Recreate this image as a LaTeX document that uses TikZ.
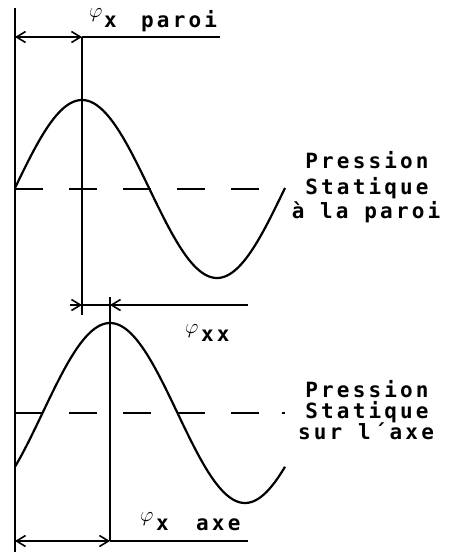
\documentclass[tikz,border=0pt]{standalone}
\usepackage{fontspec}
\usetikzlibrary{arrows.meta}
\newfontfamily\plotfont{DejaVu Sans Mono}[LetterSpace=15]
\begin{document}
\begin{tikzpicture}[x=1pt,y=-1pt,
  >={Straight Barb[length=9pt,width=11pt,line width=1.6pt]},
  ln/.style={line width=1.6pt},
  wave/.style={line width=2.2pt,line join=round},
  dsh/.style={line width=1.8pt,dash pattern=on 28pt off 26pt},
  dimline/.style={ln,<->},
  endarrow/.style={ln,->},
  lbl/.style={inner sep=0pt,font=\plotfont\bfseries\fontsize{21}{21}\selectfont,anchor=base west},
  side/.style={inner sep=0pt,font=\plotfont\bfseries\fontsize{21}{21}\selectfont,anchor=base},
  phi/.style={inner sep=0pt,font=\fontsize{22}{22}\selectfont,anchor=base west}]
\useasboundingbox (0,0) rectangle (452,552);
% reference coordinates
\coordinate (L0) at (15,8);
\coordinate (L1) at (15,552);
\coordinate (Ta) at (15,37);
\coordinate (Tb) at (82,37);
\coordinate (Tc) at (220,37);
\coordinate (Vb) at (82,315);
\coordinate (Ma) at (70,305);
\coordinate (Mb) at (82,305);
\coordinate (Mc) at (110,305);
\coordinate (Md) at (248,305);
\coordinate (Ua) at (110,297);
\coordinate (Ba) at (15,541);
\coordinate (Bb) at (110,541);
\coordinate (Bc) at (248,541);
\coordinate (D1a) at (15,189);
\coordinate (D1b) at (262,189);
\coordinate (D2a) at (15,413);
\coordinate (D2b) at (262,413);
\coordinate (D2c) at (282,413);
\coordinate (D2d) at (284.5,413);
% left axis
\draw[ln] (L0) -- (L1);
% top dimension
\draw[dimline] (Ta) -- (Tb);
\draw[ln] (Tb) -- (Tc);
\draw[ln] (Tb) -- (Vb);
% middle dimension
\draw[endarrow] (Ma) -- (Mb);
\draw[endarrow] (Md) -- (Mc);
\draw[ln] (Mb) -- (Mc);
\draw[ln] (Ua) -- (Bb);
% bottom dimension
\draw[dimline] (Ba) -- (Bb);
\draw[ln] (Bb) -- (Bc);
% dashed static lines
\draw[dsh] (D1a) -- (D1b);
\draw[dsh] (D2a) -- (D2b);
\draw[line width=1.8pt] (D2c) -- (D2d);
% waves
\draw[wave] plot[domain=15:285,samples=120,smooth] (\x,{189-89*cos(4/3*(\x-82))});
\draw[wave] plot[domain=15:285,samples=120,smooth] (\x,{413-90*cos(4/3*(\x-110))});
% labels
\node[phi] (p1) at (89,17.5) {$\varphi$};
\node[lbl] (t1) at (104,27) {x};
\node[lbl] (t1b) at (141,27) {paroi};
\node[phi] (p2) at (185,333) {$\varphi$};
\node[lbl] (t2) at (201,341) {xx};
\node[phi] (p3) at (140,521) {$\varphi$};
\node[lbl] (t3) at (156,530) {x};
\node[lbl] (t4) at (196,530) {axe};
\node[side] (s1) at (367,168) {Pression};
\node[side] (s2) at (367,194) {Statique};
\node[side] (s3) at (366,218) {à la paroi};
\node[side] (s4) at (367,397) {Pression};
\node[side] (s5) at (367,418) {Statique};
\node[side] (s6) at (366,439) {sur l´axe};
\end{tikzpicture}
\end{document}
